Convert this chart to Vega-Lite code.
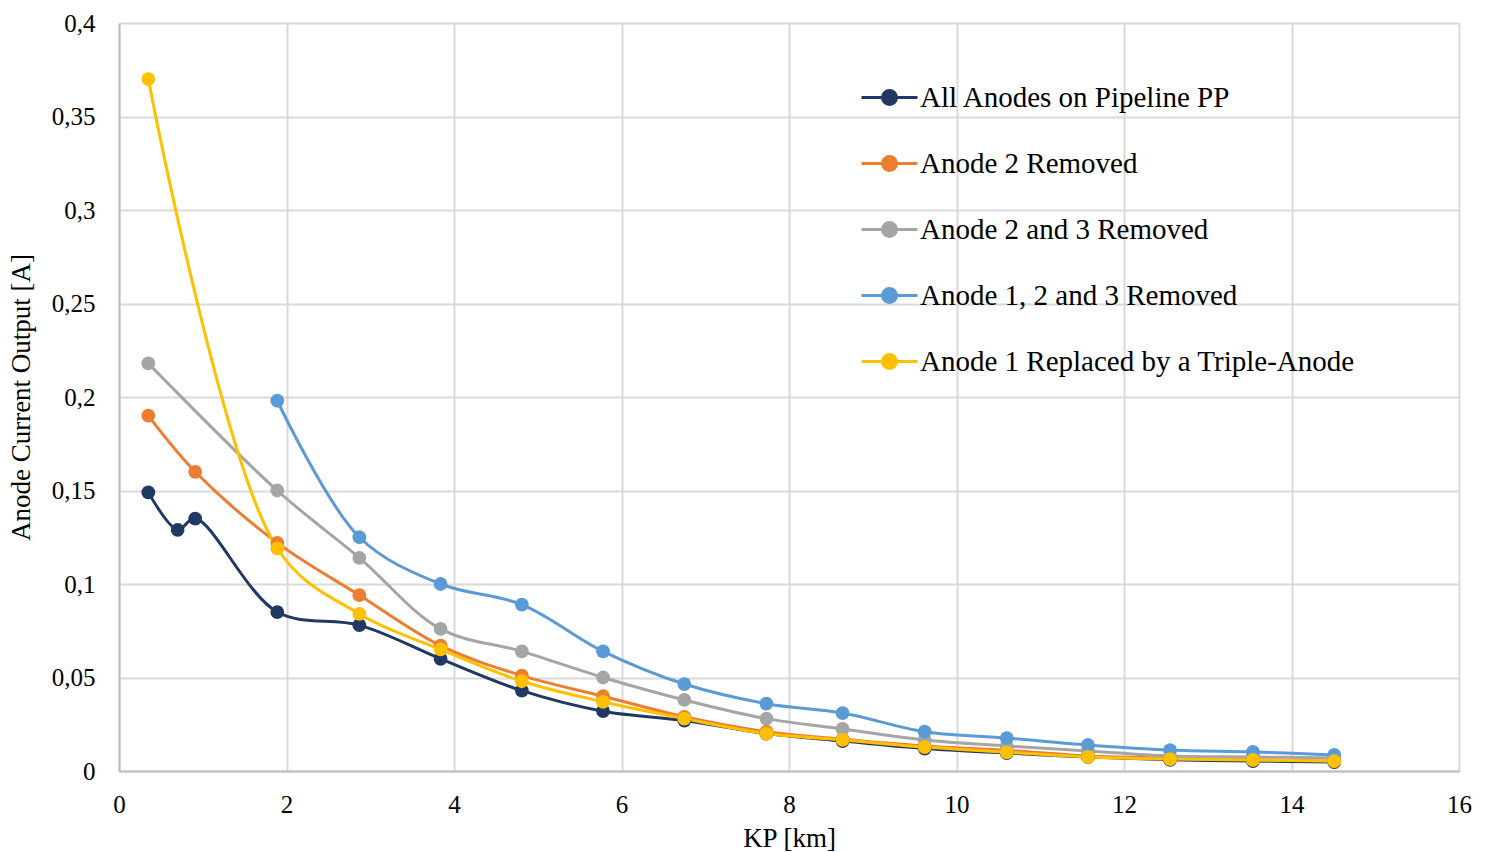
{
  "$schema": "https://vega.github.io/schema/vega-lite/v6.json",
  "width": 1340,
  "height": 748,
  "autosize": {"type": "none"},
  "padding": {"left": 119, "top": 23, "right": 31, "bottom": 81},
  "background": "white",
  "config": {
    "view": {"stroke": null},
    "font": "Liberation Serif",
    "axis": {
      "labelFont": "Liberation Serif",
      "titleFont": "Liberation Serif",
      "labelColor": "#000000",
      "titleColor": "#000000",
      "labelFontSize": 25,
      "titleFontSize": 27,
      "titleFontWeight": "normal",
      "gridColor": "#d9d9d9",
      "gridWidth": 2,
      "domainColor": "#bfbfbf",
      "domainWidth": 2,
      "ticks": false
    }
  },
  "data": {
    "values": [
      {"series": "All Anodes on Pipeline PP", "kp": 0.35, "current": 0.149},
      {"series": "All Anodes on Pipeline PP", "kp": 0.70, "current": 0.129},
      {"series": "All Anodes on Pipeline PP", "kp": 0.91, "current": 0.135},
      {"series": "All Anodes on Pipeline PP", "kp": 1.89, "current": 0.085},
      {"series": "All Anodes on Pipeline PP", "kp": 2.87, "current": 0.078},
      {"series": "All Anodes on Pipeline PP", "kp": 3.84, "current": 0.060},
      {"series": "All Anodes on Pipeline PP", "kp": 4.81, "current": 0.043},
      {"series": "All Anodes on Pipeline PP", "kp": 5.78, "current": 0.032},
      {"series": "All Anodes on Pipeline PP", "kp": 6.75, "current": 0.027},
      {"series": "All Anodes on Pipeline PP", "kp": 7.73, "current": 0.020},
      {"series": "All Anodes on Pipeline PP", "kp": 8.64, "current": 0.016},
      {"series": "All Anodes on Pipeline PP", "kp": 9.62, "current": 0.012},
      {"series": "All Anodes on Pipeline PP", "kp": 10.60, "current": 0.0096},
      {"series": "All Anodes on Pipeline PP", "kp": 11.57, "current": 0.0075},
      {"series": "All Anodes on Pipeline PP", "kp": 12.55, "current": 0.006},
      {"series": "All Anodes on Pipeline PP", "kp": 13.54, "current": 0.0053},
      {"series": "All Anodes on Pipeline PP", "kp": 14.51, "current": 0.0048},
      {"series": "Anode 2 Removed", "kp": 0.35, "current": 0.190},
      {"series": "Anode 2 Removed", "kp": 0.91, "current": 0.160},
      {"series": "Anode 2 Removed", "kp": 1.89, "current": 0.122},
      {"series": "Anode 2 Removed", "kp": 2.87, "current": 0.094},
      {"series": "Anode 2 Removed", "kp": 3.84, "current": 0.067},
      {"series": "Anode 2 Removed", "kp": 4.81, "current": 0.051},
      {"series": "Anode 2 Removed", "kp": 5.78, "current": 0.040},
      {"series": "Anode 2 Removed", "kp": 6.75, "current": 0.029},
      {"series": "Anode 2 Removed", "kp": 7.73, "current": 0.021},
      {"series": "Anode 2 Removed", "kp": 8.64, "current": 0.017},
      {"series": "Anode 2 Removed", "kp": 9.62, "current": 0.0134},
      {"series": "Anode 2 Removed", "kp": 10.60, "current": 0.011},
      {"series": "Anode 2 Removed", "kp": 11.57, "current": 0.008},
      {"series": "Anode 2 Removed", "kp": 12.55, "current": 0.007},
      {"series": "Anode 2 Removed", "kp": 13.54, "current": 0.006},
      {"series": "Anode 2 Removed", "kp": 14.51, "current": 0.0054},
      {"series": "Anode 2 and 3 Removed", "kp": 0.35, "current": 0.218},
      {"series": "Anode 2 and 3 Removed", "kp": 1.89, "current": 0.150},
      {"series": "Anode 2 and 3 Removed", "kp": 2.87, "current": 0.114},
      {"series": "Anode 2 and 3 Removed", "kp": 3.84, "current": 0.076},
      {"series": "Anode 2 and 3 Removed", "kp": 4.81, "current": 0.064},
      {"series": "Anode 2 and 3 Removed", "kp": 5.78, "current": 0.050},
      {"series": "Anode 2 and 3 Removed", "kp": 6.75, "current": 0.038},
      {"series": "Anode 2 and 3 Removed", "kp": 7.73, "current": 0.028},
      {"series": "Anode 2 and 3 Removed", "kp": 8.64, "current": 0.0225},
      {"series": "Anode 2 and 3 Removed", "kp": 9.62, "current": 0.0166},
      {"series": "Anode 2 and 3 Removed", "kp": 10.60, "current": 0.0134},
      {"series": "Anode 2 and 3 Removed", "kp": 11.57, "current": 0.0107},
      {"series": "Anode 2 and 3 Removed", "kp": 12.55, "current": 0.008},
      {"series": "Anode 2 and 3 Removed", "kp": 13.54, "current": 0.0075},
      {"series": "Anode 2 and 3 Removed", "kp": 14.51, "current": 0.007},
      {"series": "Anode 1, 2 and 3 Removed", "kp": 1.89, "current": 0.198},
      {"series": "Anode 1, 2 and 3 Removed", "kp": 2.87, "current": 0.125},
      {"series": "Anode 1, 2 and 3 Removed", "kp": 3.84, "current": 0.100},
      {"series": "Anode 1, 2 and 3 Removed", "kp": 4.81, "current": 0.089},
      {"series": "Anode 1, 2 and 3 Removed", "kp": 5.78, "current": 0.064},
      {"series": "Anode 1, 2 and 3 Removed", "kp": 6.75, "current": 0.0465},
      {"series": "Anode 1, 2 and 3 Removed", "kp": 7.73, "current": 0.036},
      {"series": "Anode 1, 2 and 3 Removed", "kp": 8.64, "current": 0.031},
      {"series": "Anode 1, 2 and 3 Removed", "kp": 9.62, "current": 0.021},
      {"series": "Anode 1, 2 and 3 Removed", "kp": 10.60, "current": 0.0176},
      {"series": "Anode 1, 2 and 3 Removed", "kp": 11.57, "current": 0.0139},
      {"series": "Anode 1, 2 and 3 Removed", "kp": 12.55, "current": 0.0112},
      {"series": "Anode 1, 2 and 3 Removed", "kp": 13.54, "current": 0.0102},
      {"series": "Anode 1, 2 and 3 Removed", "kp": 14.51, "current": 0.0086},
      {"series": "Anode 1 Replaced by a Triple-Anode", "kp": 0.35, "current": 0.370},
      {"series": "Anode 1 Replaced by a Triple-Anode", "kp": 1.89, "current": 0.119},
      {"series": "Anode 1 Replaced by a Triple-Anode", "kp": 2.87, "current": 0.084},
      {"series": "Anode 1 Replaced by a Triple-Anode", "kp": 3.84, "current": 0.065},
      {"series": "Anode 1 Replaced by a Triple-Anode", "kp": 4.81, "current": 0.048},
      {"series": "Anode 1 Replaced by a Triple-Anode", "kp": 5.78, "current": 0.037},
      {"series": "Anode 1 Replaced by a Triple-Anode", "kp": 6.75, "current": 0.028},
      {"series": "Anode 1 Replaced by a Triple-Anode", "kp": 7.73, "current": 0.020},
      {"series": "Anode 1 Replaced by a Triple-Anode", "kp": 8.64, "current": 0.0166},
      {"series": "Anode 1 Replaced by a Triple-Anode", "kp": 9.62, "current": 0.0128},
      {"series": "Anode 1 Replaced by a Triple-Anode", "kp": 10.60, "current": 0.010},
      {"series": "Anode 1 Replaced by a Triple-Anode", "kp": 11.57, "current": 0.0075},
      {"series": "Anode 1 Replaced by a Triple-Anode", "kp": 12.55, "current": 0.0064},
      {"series": "Anode 1 Replaced by a Triple-Anode", "kp": 13.54, "current": 0.0059},
      {"series": "Anode 1 Replaced by a Triple-Anode", "kp": 14.51, "current": 0.0053}
    ]
  },
  "encoding": {
    "x": {
      "field": "kp",
      "type": "quantitative",
      "title": "KP [km]",
      "scale": {"domain": [0, 16], "nice": false, "zero": false},
      "axis": {"values": [0, 2, 4, 6, 8, 10, 12, 14, 16], "labelPadding": 21, "titlePadding": 8, "grid": true, "labelFlush": false}
    },
    "y": {
      "field": "current",
      "type": "quantitative",
      "title": "Anode Current Output [A]",
      "scale": {"domain": [0, 0.4], "nice": false},
      "axis": {
        "values": [0, 0.05, 0.1, 0.15, 0.2, 0.25, 0.3, 0.35, 0.4],
        "labelExpr": "replace(format(datum.value, '~g'), '.', ',')",
        "labelPadding": 24,
        "titlePadding": 16,
        "grid": true,
        "labelFlush": false
      }
    },
    "color": {
      "field": "series",
      "type": "nominal",
      "sort": ["All Anodes on Pipeline PP", "Anode 2 Removed", "Anode 2 and 3 Removed", "Anode 1, 2 and 3 Removed", "Anode 1 Replaced by a Triple-Anode"],
      "scale": {
        "domain": ["All Anodes on Pipeline PP", "Anode 2 Removed", "Anode 2 and 3 Removed", "Anode 1, 2 and 3 Removed", "Anode 1 Replaced by a Triple-Anode"],
        "range": ["#203864", "#ed7d31", "#a5a5a5", "#5b9bd5", "#ffc000"]
      },
      "legend": {
        "title": null,
        "orient": "none",
        "legendX": 741,
        "legendY": 45,
        "padding": 0,
        "symbolType": "M-1,0L1,0M-0.25,0A0.25,0.25 0 1,0 0.25,0A0.25,0.25 0 1,0 -0.25,0Z",
        "symbolSize": 3136,
        "symbolStrokeWidth": 3,
        "labelFont": "Liberation Serif",
        "labelFontSize": 29,
        "labelColor": "#000000",
        "labelOffset": 1,
        "labelLimit": 600,
        "rowPadding": 21,
        "encode": {
          "symbols": {"update": {"fill": {"scale": "color", "field": "value"}, "opacity": {"value": 1}}}
        }
      }
    }
  },
  "layer": [
    {
      "mark": {"type": "line", "interpolate": "catmull-rom", "strokeWidth": 3}
    },
    {
      "mark": {"type": "point", "filled": true, "size": 190, "opacity": 1}
    }
  ]
}
